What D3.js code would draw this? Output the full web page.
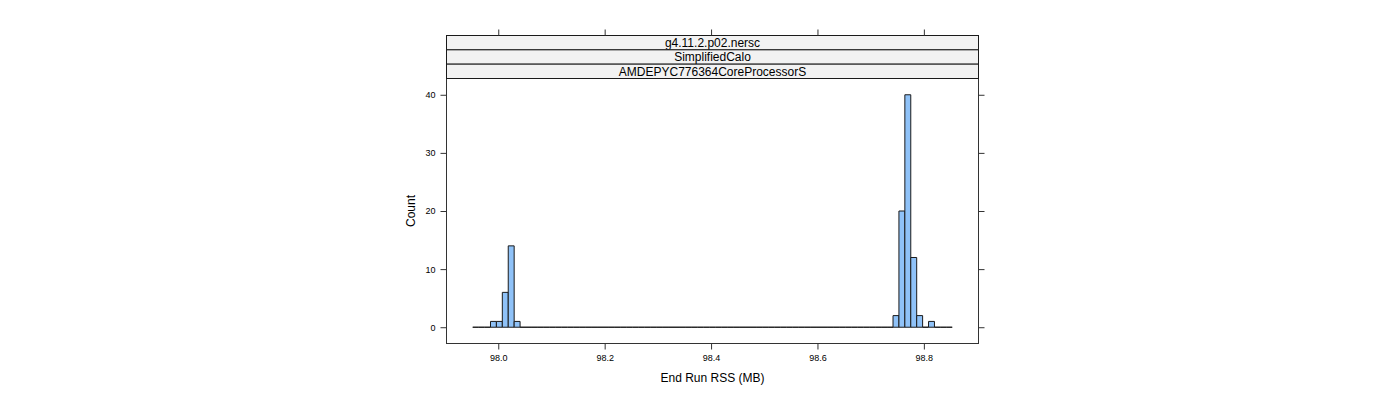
<!DOCTYPE html>
<html><head><meta charset="utf-8">
<script src="https://cdn.jsdelivr.net/npm/d3@7"></script>
<style>
body{margin:0;background:#fff;}
svg{display:block;font-family:"Liberation Sans",Arial,Helvetica,sans-serif;}
</style>
</head><body>
<svg id="chart" width="1400" height="400"></svg>
<script>
// ---- data ----
const stripLabels = ["g4.11.2.p02.nersc", "SimplifiedCalo", "AMDEPYC776364CoreProcessorS"];
const breaksStart = 97.952;     // lower edge of first bin (MB)
const binWidth = 0.011127;      // bin width (MB)
const counts = [
  0, 0, 0, 1, 1, 6, 14, 1, 0, 0,
  0, 0, 0, 0, 0, 0, 0, 0, 0, 0,
  0, 0, 0, 0, 0, 0, 0, 0, 0, 0,
  0, 0, 0, 0, 0, 0, 0, 0, 0, 0,
  0, 0, 0, 0, 0, 0, 0, 0, 0, 0,
  0, 0, 0, 0, 0, 0, 0, 0, 0, 0,
  0, 0, 0, 0, 0, 0, 0, 0, 0, 0,
  0, 2, 20, 40, 12, 2, 0, 1, 0, 0,
  0
];
const xTicks = [98.0, 98.2, 98.4, 98.6, 98.8];
const xTickLabels = ["98.0", "98.2", "98.4", "98.6", "98.8"];
const yTicks = [0, 10, 20, 30, 40];
const yTickLabels = ["0", "10", "20", "30", "40"];
const xDomain = [97.9027, 98.9027];
const yDomain = [-2.8, 42.8];
const xTitle = "End Run RSS (MB)";
const yTitle = "Count";

// ---- layout ----
const P = {left: 446.5, right: 978.5, top: 78.5, bottom: 343.5};
const stripTop = 35.5;
const stripH = (P.top - stripTop) / stripLabels.length;

const svg = d3.select("#chart");
const x = d3.scaleLinear().domain(xDomain).range([P.left, P.right]);
const y = d3.scaleLinear().domain(yDomain).range([P.bottom, P.top]);

const axisCol = "#333";

// bars
const bins = counts.map((c, i) => ({lo: breaksStart + i * binWidth, hi: breaksStart + (i + 1) * binWidth, c}));
svg.append("g").selectAll("path").data(bins).join("path")
  .attr("d", d => {
    const x0 = x(d.lo), x1 = x(d.hi), y0 = y(0), y1 = y(d.c);
    return `M${x0},${y0}V${y1}H${x1}V${y0}Z`;
  })
  .attr("fill", "#8fc2f8")
  .attr("stroke", "#1a1a1a")
  .attr("stroke-width", 1);

// panel border
svg.append("rect").attr("x", P.left).attr("y", P.top)
  .attr("width", P.right - P.left).attr("height", P.bottom - P.top)
  .attr("fill", "none").attr("stroke", axisCol);

// strips
stripLabels.forEach((lab, i) => {
  const yy = stripTop + i * stripH;
  svg.append("rect").attr("x", P.left).attr("y", yy)
    .attr("width", P.right - P.left).attr("height", stripH)
    .attr("fill", "#f2f2f2").attr("stroke", "#1a1a1a");
  svg.append("text").attr("x", (P.left + P.right) / 2).attr("y", yy + stripH / 2)
    .attr("dy", "0.36em").attr("text-anchor", "middle")
    .attr("font-size", 12).attr("fill", "#000").text(lab);
});

function styleAxis(g) {
  g.select(".domain").remove();
  g.selectAll(".tick line").attr("stroke", axisCol);
  g.selectAll(".tick text").attr("fill", "#000").attr("font-size", 9)
   .attr("font-family", '"Liberation Sans",Arial,sans-serif');
}

// bottom axis
svg.append("g").attr("transform", `translate(0,${P.bottom})`)
  .call(d3.axisBottom(x).tickValues(xTicks).tickFormat((d, i) => xTickLabels[i]).tickSize(6).tickPadding(5))
  .call(styleAxis);
// top ticks (above strips), no labels
svg.append("g").attr("transform", `translate(0,${stripTop})`)
  .call(d3.axisTop(x).tickValues(xTicks).tickFormat("").tickSize(6))
  .call(styleAxis);
// left axis
svg.append("g").attr("transform", `translate(${P.left},0)`)
  .call(d3.axisLeft(y).tickValues(yTicks).tickFormat((d, i) => yTickLabels[i]).tickSize(6).tickPadding(5))
  .call(styleAxis);
// right ticks
svg.append("g").attr("transform", `translate(${P.right},0)`)
  .call(d3.axisRight(y).tickValues(yTicks).tickFormat("").tickSize(6))
  .call(styleAxis);

// titles
svg.append("text").attr("x", (P.left + P.right) / 2).attr("y", 378).attr("dy", "0.36em")
  .attr("text-anchor", "middle").attr("font-size", 12).text(xTitle);
svg.append("text").attr("transform", `translate(411,${(P.top + P.bottom) / 2}) rotate(-90)`)
  .attr("dy", "0.36em").attr("text-anchor", "middle").attr("font-size", 12).text(yTitle);
</script>
</body></html>
